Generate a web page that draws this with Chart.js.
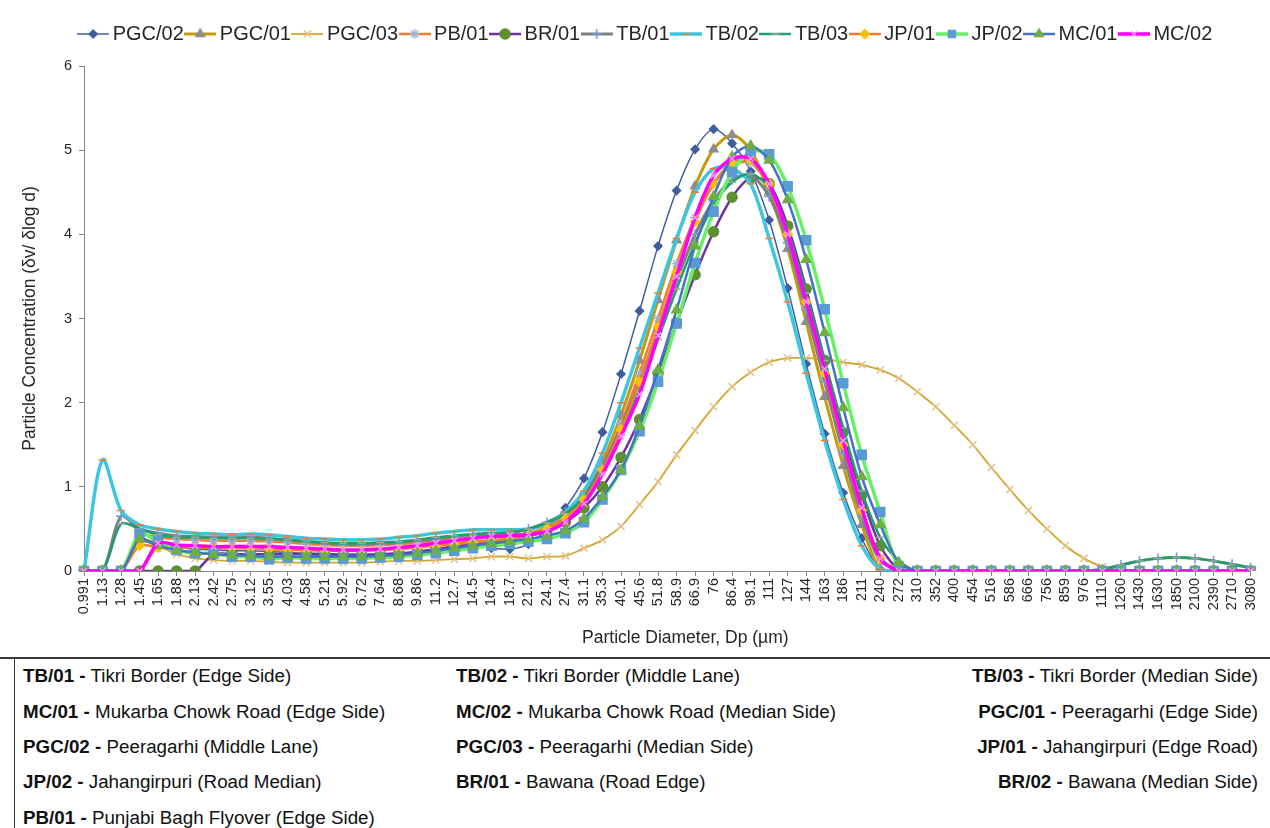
<!DOCTYPE html>
<html>
<head>
<meta charset="utf-8">
<title>Particle size distribution</title>
<script src="https://cdn.jsdelivr.net/npm/chart.js@4.4.1/dist/chart.umd.min.js"></script>
<style>
  html, body { margin: 0; padding: 0; background: #fff; }
  body { position: relative; width: 1270px; height: 828px; overflow: hidden; font-family: "Liberation Sans", Arial, sans-serif; }
  #chartBox { position: absolute; left: 0; top: 0; width: 1270px; height: 657px; border-bottom: 2px solid #3a3a3a; }
  #keyBox { position: absolute; left: 14px; top: 659px; width: 1256px; height: 169px; border-left: 1px solid #3a3a3a; }
  .key { position: absolute; font-size: 18.8px; line-height: 24px; color: #111; white-space: nowrap; }
  .key b { font-weight: bold; }
</style>
</head>
<body>
<div id="chartBox"><canvas id="psdChart" width="1270" height="657"></canvas></div>
<div id="keyBox"></div>

<script>
// particle diameters (µm), one category per size bin
const diameters = ['0.991','1.13','1.28','1.45','1.65','1.88','2.13','2.42','2.75','3.12','3.55','4.03','4.58','5.21','5.92','6.72','7.64','8.68','9.86',
    '11.2','12.7','14.5','16.4','18.7','21.2','24.1','27.4','31.1','35.3','40.1','45.6','51.8','58.9','66.9','76','86.4','98.1',
    '111','127','144','163','186','211','240','272','310','352','400','454','516','586','666','756','859','976',
    '1110','1260','1430','1630','1850','2100','2390','2710','3080'];

const yTicks = [0, 1, 2, 3, 4, 5, 6];

// dv / dlog d for each site
const pgc02 = [0, 0, 0, 0.35, 0.3, 0.28, 0.26, 0.25, 0.24, 0.24, 0.23, 0.22, 0.21, 0.21, 0.2, 0.2, 0.2, 0.21, 0.22, 0.24,
    0.27, 0.3, 0.27, 0.26, 0.32, 0.5, 0.75, 1.1, 1.65, 2.34, 3.09, 3.86, 4.52, 5.01, 5.25, 5.08, 4.75, 4.17, 3.36, 2.46,
    1.63, 0.93, 0.39, 0.02, 0, 0, 0, 0, 0, 0, 0, 0, 0, 0, 0, 0, 0, 0, 0, 0, 0, 0, 0, 0];
const pgc01 = [0, 0, 0, 0.37, 0.32, 0.3, 0.3, 0.29, 0.29, 0.29, 0.28, 0.27, 0.26, 0.26, 0.25, 0.25, 0.26, 0.27, 0.29, 0.31,
    0.33, 0.35, 0.36, 0.38, 0.42, 0.48, 0.6, 0.88, 1.3, 1.85, 2.5, 3.22, 3.93, 4.57, 5.01, 5.18, 5.0, 4.5, 3.83, 2.96,
    2.07, 1.25, 0.55, 0.02, 0, 0, 0, 0, 0, 0, 0, 0, 0, 0, 0, 0, 0, 0, 0, 0, 0, 0, 0, 0];
const pgc03 = [0, 0, 0, 0, 0.27, 0.2, 0.15, 0.13, 0.12, 0.12, 0.11, 0.1, 0.1, 0.1, 0.1, 0.1, 0.11, 0.12, 0.12, 0.13,
    0.14, 0.15, 0.17, 0.17, 0.15, 0.17, 0.18, 0.27, 0.37, 0.53, 0.79, 1.06, 1.38, 1.67, 1.95, 2.19, 2.36, 2.48, 2.53, 2.53,
    2.52, 2.48, 2.45, 2.39, 2.29, 2.13, 1.95, 1.73, 1.5, 1.23, 0.97, 0.72, 0.5, 0.3, 0.15, 0.05, 0.01, 0, 0, 0, 0, 0, 0, 0];
const pb01 = [0, 0, 0, 0.42, 0.4, 0.38, 0.37, 0.36, 0.36, 0.36, 0.35, 0.34, 0.32, 0.31, 0.3, 0.3, 0.31, 0.32, 0.34, 0.36,
    0.38, 0.4, 0.42, 0.43, 0.45, 0.52, 0.65, 0.9, 1.25, 1.75, 2.35, 3.0, 3.65, 4.2, 4.6, 4.82, 4.85, 4.55, 3.95, 3.15,
    2.3, 1.45, 0.7, 0.15, 0.02, 0, 0, 0, 0, 0, 0, 0, 0, 0, 0, 0, 0, 0, 0, 0, 0, 0, 0, 0];
const br01 = [0, 0, 0, 0, 0, 0, 0, 0.2, 0.2, 0.2, 0.2, 0.2, 0.2, 0.19, 0.19, 0.19, 0.2, 0.21, 0.23, 0.26,
    0.29, 0.32, 0.35, 0.38, 0.42, 0.48, 0.58, 0.75, 1.0, 1.35, 1.8, 2.35, 2.95, 3.52, 4.03, 4.44, 4.67, 4.6, 4.1, 3.35,
    2.5, 1.65, 0.9, 0.3, 0.02, 0, 0, 0, 0, 0, 0, 0, 0, 0, 0, 0, 0, 0, 0, 0, 0, 0, 0, 0];
const tb01 = [0, 0, 0.65, 0.5, 0.45, 0.42, 0.41, 0.4, 0.4, 0.4, 0.39, 0.37, 0.35, 0.33, 0.32, 0.32, 0.33, 0.34, 0.36, 0.38,
    0.41, 0.43, 0.44, 0.45, 0.5, 0.58, 0.7, 0.92, 1.25, 1.7, 2.25, 2.85, 3.45, 4.0, 4.4, 4.65, 4.7, 4.45, 3.9, 3.1,
    2.25, 1.4, 0.65, 0.12, 0.02, 0, 0, 0, 0, 0, 0, 0, 0, 0, 0, 0.02, 0.07, 0.12, 0.15, 0.16, 0.15, 0.12, 0.08, 0.04];
const tb02 = [0, 1.32, 0.72, 0.55, 0.5, 0.47, 0.45, 0.44, 0.43, 0.44, 0.43, 0.41, 0.39, 0.38, 0.37, 0.37, 0.38, 0.4, 0.42, 0.45,
    0.47, 0.49, 0.49, 0.49, 0.5, 0.56, 0.7, 0.95, 1.4, 2.0, 2.65, 3.3, 3.95, 4.5, 4.78, 4.78, 4.6, 3.95, 3.2, 2.35,
    1.55, 0.85, 0.3, 0.02, 0, 0, 0, 0, 0, 0, 0, 0, 0, 0, 0, 0, 0, 0, 0, 0, 0, 0, 0, 0];
const tb03 = [0, 0, 0.56, 0.5, 0.43, 0.4, 0.4, 0.39, 0.39, 0.39, 0.38, 0.37, 0.35, 0.34, 0.33, 0.33, 0.34, 0.35, 0.37, 0.4,
    0.42, 0.44, 0.45, 0.46, 0.5, 0.57, 0.68, 0.88, 1.2, 1.62, 2.15, 2.75, 3.35, 3.9, 4.35, 4.62, 4.72, 4.55, 4.05, 3.3,
    2.5, 1.7, 0.95, 0.4, 0.12, 0, 0, 0, 0, 0, 0, 0, 0, 0, 0, 0.02, 0.07, 0.12, 0.15, 0.16, 0.15, 0.12, 0.08, 0.04];
const jp01 = [0, 0, 0, 0.3, 0.28, 0.28, 0.28, 0.27, 0.27, 0.27, 0.26, 0.25, 0.25, 0.24, 0.24, 0.24, 0.25, 0.26, 0.28, 0.3,
    0.32, 0.34, 0.36, 0.38, 0.42, 0.5, 0.62, 0.85, 1.2, 1.68, 2.25, 2.9, 3.55, 4.15, 4.6, 4.85, 4.88, 4.6, 4.0, 3.2,
    2.35, 1.5, 0.72, 0.15, 0, 0, 0, 0, 0, 0, 0, 0, 0, 0, 0, 0, 0, 0, 0, 0, 0, 0, 0, 0];
const jp02 = [0, 0, 0, 0.44, 0.35, 0.25, 0.21, 0.21, 0.17, 0.17, 0.14, 0.16, 0.15, 0.15, 0.15, 0.15, 0.16, 0.17, 0.19, 0.21,
    0.24, 0.27, 0.3, 0.32, 0.35, 0.38, 0.45, 0.58, 0.85, 1.2, 1.66, 2.25, 2.94, 3.66, 4.27, 4.74, 4.98, 4.95, 4.57, 3.93,
    3.11, 2.23, 1.38, 0.7, 0.05, 0, 0, 0, 0, 0, 0, 0, 0, 0, 0, 0, 0, 0, 0, 0, 0, 0, 0, 0];
const mc01 = [0, 0, 0, 0.38, 0.3, 0.25, 0.22, 0.2, 0.19, 0.18, 0.17, 0.17, 0.17, 0.17, 0.17, 0.17, 0.18, 0.19, 0.21, 0.24,
    0.27, 0.3, 0.33, 0.35, 0.38, 0.42, 0.48, 0.62, 0.88, 1.2, 1.72, 2.39, 3.1, 3.86, 4.45, 4.92, 5.05, 4.88, 4.41, 3.7,
    2.83, 1.94, 1.12, 0.55, 0.1, 0, 0, 0, 0, 0, 0, 0, 0, 0, 0, 0, 0, 0, 0, 0, 0, 0, 0, 0];
const mc02 = [0, 0, 0, 0, 0.33, 0.31, 0.3, 0.29, 0.29, 0.29, 0.29, 0.28, 0.27, 0.26, 0.25, 0.25, 0.26, 0.28, 0.3, 0.33,
    0.36, 0.39, 0.41, 0.42, 0.43, 0.47, 0.58, 0.8, 1.15, 1.6, 2.1, 2.8, 3.5, 4.2, 4.7, 4.9, 4.9, 4.6, 4.0, 3.2,
    2.4, 1.55, 0.75, 0.15, 0, 0, 0, 0, 0, 0, 0, 0, 0, 0, 0, 0, 0, 0, 0, 0, 0, 0, 0, 0];

const seriesNames = ['PGC/02', 'PGC/01', 'PGC/03', 'PB/01', 'BR/01', 'TB/01', 'TB/02', 'TB/03', 'JP/01', 'JP/02', 'MC/01', 'MC/02'];
const seriesData = [pgc02, pgc01, pgc03, pb01, br01, tb01, tb02, tb03, jp01, jp02, mc01, mc02];

// site key under the chart
const keyCodes = ['TB/01', 'TB/02', 'TB/03', 'MC/01', 'MC/02', 'PGC/01', 'PGC/02', 'PGC/03', 'JP/01', 'JP/02', 'BR/01', 'BR/02', 'PB/01'];
const keyNames = ['Tikri Border (Edge Side)', 'Tikri Border (Middle Lane)', 'Tikri Border (Median Side)',
    'Mukarba Chowk Road (Edge Side)', 'Mukarba Chowk Road (Median Side)', 'Peeragarhi (Edge Side)',
    'Peeragarhi (Middle Lane)', 'Peeragarhi (Median Side)', 'Jahangirpuri (Edge Road)',
    'Jahangirpuri (Road Median)', 'Bawana (Road Edge)', 'Bawana (Median Side)', 'Punjabi Bagh Flyover (Edge Side)'];

// look of each series: line colour/width, marker shape/colour/size
const lineColors = ['#3F5E9E', '#C49A13', '#D4A72C', '#ED7D31', '#7030A0', '#7F7F7F', '#3FC5E0', '#1FA068', '#ED7D31', '#66F066', '#4472C4', '#FF00FF'];
const lineWidths = [1.5, 3, 1.8, 2.5, 2.5, 3, 3.5, 2.5, 2.5, 3.5, 2.5, 3.5];
const markerShapes = ['rectRot', 'triangle', 'crossRot', 'star', 'circle', 'cross', 'line', 'line', 'rectRot', 'rect', 'triangle', 'crossRot'];
const markerColors = ['#3F5E9E', '#8E8E8E', '#E3C08A', '#9DB3D6', '#5E8F32', '#6F9BD8', '#ED7D31', '#A6A6A6', '#FFC000', '#5B9BD5', '#70AD47', '#FF99FF'];
const markerSizes = [4, 5, 5, 5, 5, 5, 4, 4, 4.5, 6.4, 5.5, 4];

const FONT = '"Liberation Sans", Arial, sans-serif';
Chart.defaults.font.family = FONT;
Chart.defaults.color = '#262626';

// little line+marker pictures for the legend, like the spreadsheet legend
const legendIcons = seriesNames.map((name, i) => {
    const c = document.createElement('canvas');
    c.width = 32;
    c.height = 14;
    const g = c.getContext('2d');
    g.strokeStyle = lineColors[i];
    g.lineWidth = lineWidths[i];
    g.beginPath();
    g.moveTo(0, 7);
    g.lineTo(32, 7);
    g.stroke();
    g.fillStyle = markerColors[i];
    g.strokeStyle = markerColors[i];
    g.lineWidth = 1.5;
    Chart.helpers.drawPoint(g, { pointStyle: markerShapes[i], radius: Math.min(markerSizes[i], 5), rotation: 0, borderWidth: 1.5 }, 16, 7);
    return c;
});

const datasets = seriesNames.map((name, i) => ({
    label: name,
    data: seriesData[i],
    borderColor: lineColors[i],
    backgroundColor: markerColors[i],
    borderWidth: lineWidths[i],
    pointStyle: markerShapes[i],
    pointRadius: markerSizes[i],
    pointHoverRadius: markerSizes[i],
    pointBackgroundColor: markerColors[i],
    pointBorderColor: markerColors[i],
    pointBorderWidth: 1.5,
    tension: 0.3,
    fill: false,
    order: seriesNames.length - i   // later series painted on top
}));

// shift a box's drawing sideways without touching the layout
function nudge(box, dx) {
    const orig = box.draw;
    box.draw = function () {
        this.ctx.save();
        this.ctx.translate(dx, 0);
        orig.apply(this, arguments);
        this.ctx.restore();
    };
}

// fixes the legend strip height so the plot starts where the original does,
// and moves legend / x title a little to the right like the original
const layoutTweak = {
    id: 'layoutTweak',
    beforeLayout(chart) {
        const lg = chart.legend;
        if (lg && !lg._patched) {
            const fit = lg.fit;
            lg.fit = function () { fit.call(this); this.height = 49; };
            nudge(lg, 12);
            lg._patched = true;
        }
    },
    afterLayout(chart) {
        const sx = chart.scales.x;
        if (sx && !sx._patched) {
            const drawTitle = sx.drawTitle;
            sx.drawTitle = function () {
                this.ctx.save();
                this.ctx.translate(18, 0);
                drawTitle.apply(this, arguments);
                this.ctx.restore();
            };
            sx._patched = true;
        }
    }
};

new Chart(document.getElementById('psdChart'), {
    type: 'line',
    data: { labels: diameters, datasets: datasets },
    plugins: [layoutTweak],
    options: {
        responsive: false,
        animation: false,
        layout: { padding: { left: 20, right: 18, top: 17, bottom: 0 } },
        plugins: {
            tooltip: { enabled: false },
            legend: {
                position: 'top',
                labels: {
                    usePointStyle: true,
                    pointStyleWidth: 19,
                    padding: 7,
                    color: '#262626',
                    font: { size: 20, family: FONT },
                    generateLabels: chart => {
                        const items = Chart.defaults.plugins.legend.labels.generateLabels(chart);
                        items.sort((a, b) => a.datasetIndex - b.datasetIndex);
                        items.forEach(it => { it.pointStyle = legendIcons[it.datasetIndex]; it.rotation = 0; });
                        return items;
                    }
                }
            }
        },
        scales: {
            x: {
                offset: false,
                afterFit: s => { s.height = 86; },
                grid: { drawOnChartArea: false, drawTicks: true, tickLength: 5, color: '#868686' },
                border: { color: '#868686', width: 1 },
                ticks: { autoSkip: false, minRotation: 90, maxRotation: 90, padding: 2, font: { size: 14.5 }, color: '#262626' },
                title: { display: true, text: 'Particle Diameter, Dp (µm)', font: { size: 17.5 }, color: '#262626', padding: { top: 0, bottom: 8 } }
            },
            y: {
                min: yTicks[0],
                max: yTicks[yTicks.length - 1],
                afterFit: s => { s.width = 64; },
                afterBuildTicks: s => { s.ticks = yTicks.map(v => ({ value: v })); },
                grid: { drawOnChartArea: false, drawTicks: true, tickLength: 5, color: '#868686' },
                border: { color: '#868686', width: 1 },
                ticks: { padding: 7, font: { size: 14.5 }, color: '#262626' },
                title: { display: true, text: 'Particle Concentration (δv/ δlog d)', font: { size: 17.5 }, color: '#262626', padding: { top: 0, bottom: 4 } }
            }
        }
    }
});

// the site key table
const keyBox = document.getElementById('keyBox');
const rowTops = [5, 41, 76, 111, 147];
keyCodes.forEach((code, i) => {
    const row = Math.floor(i / 3), col = i % 3;
    const el = document.createElement('div');
    el.className = 'key';
    el.style.top = rowTops[row] + 'px';
    if (col === 0) el.style.left = '8px';
    if (col === 1) el.style.left = '441px';
    if (col === 2) el.style.right = '13px';
    el.innerHTML = '<b>' + code + ' -</b> ' + keyNames[i];
    keyBox.appendChild(el);
});
</script>
</body>
</html>
